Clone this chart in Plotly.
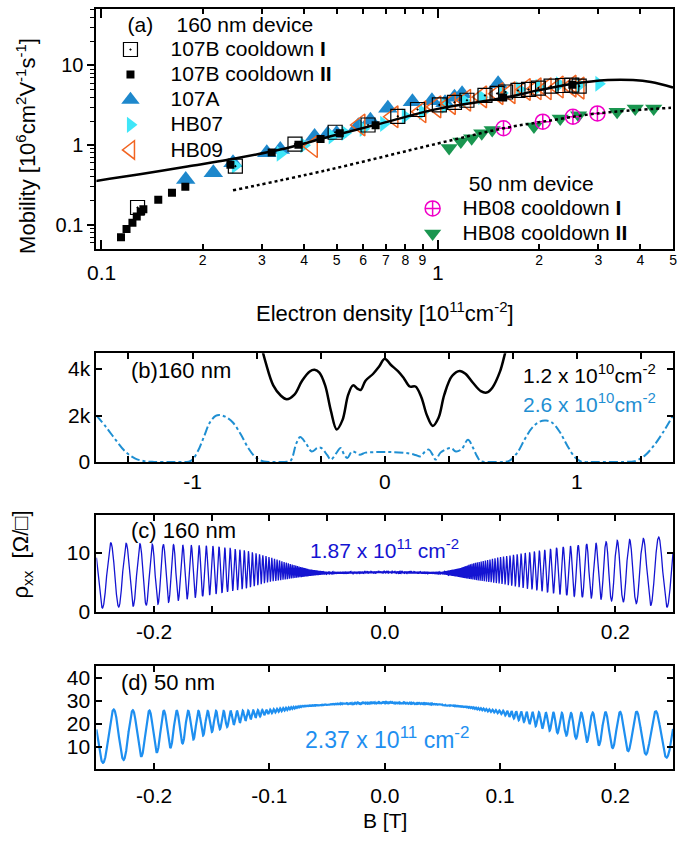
import numpy as np
import plotly.graph_objects as go

FONT = "Liberation Sans, Arial, sans-serif"
W, H = 682, 845

# ---------------- Panel (a): mobility vs density ----------------
b107I_n = [0.128, 0.25, 0.376, 0.495, 0.62, 0.76, 0.87, 1.01, 1.12, 1.22, 1.38, 1.5, 1.59, 1.73, 1.86, 1.99, 2.17, 2.35, 2.5, 2.63]
b107I_mu = [0.165, 0.544, 1.03, 1.45, 1.79, 2.3, 2.8, 3.2, 3.45, 3.66, 4.2, 4.45, 4.64, 4.86, 5.0, 5.2, 5.5, 5.6, 5.65, 5.5]

b107II_n = [0.1143, 0.1187, 0.1236, 0.1273, 0.1308, 0.1332, 0.1475, 0.162, 0.1775, 0.2417, 0.3206, 0.385, 0.448, 0.511, 0.653, 1.563, 2.51]
b107II_mu = [0.070, 0.0887, 0.1065, 0.1275, 0.146, 0.157, 0.206, 0.253, 0.301, 0.569, 0.811, 1.01, 1.197, 1.41, 1.77, 3.95, 5.72]

a107_n = [0.178, 0.215, 0.246, 0.31, 0.34, 0.43, 0.47, 0.50, 0.58, 0.63, 0.71, 0.84, 0.96, 1.05, 1.12, 1.18, 1.51]
a107_mu = [0.37, 0.45, 0.60, 0.80, 0.88, 1.28, 1.37, 1.40, 1.75, 2.05, 2.9, 3.5, 3.6, 3.4, 4.0, 4.4, 5.9]

hb07_n = [0.25, 0.34, 0.40, 0.485, 0.53, 0.60, 0.69, 0.80, 0.90, 1.05, 1.2, 1.35, 1.55, 1.75, 2.0, 2.3, 2.64, 3.01]
hb07_mu = [0.55, 0.78, 1.0, 1.29, 1.42, 1.6, 1.85, 2.3, 2.6, 3.1, 3.6, 4.0, 4.5, 5.0, 5.4, 5.8, 5.7, 5.9]

hb09_n = [0.424, 0.587, 0.736, 0.891, 0.987, 1.09, 1.21, 1.35, 1.51, 1.64, 1.82, 1.96, 2.10, 2.28, 2.49, 2.63]
hb09_mu = [0.96, 1.79, 2.27, 2.62, 3.02, 3.32, 3.66, 4.03, 4.43, 4.55, 5.0, 5.1, 5.1, 5.36, 5.5, 5.2]

hb08I_n = [1.567, 2.05, 2.52, 2.98]
hb08I_mu = [1.63, 1.97, 2.27, 2.5]

hb08II_n = [1.08, 1.17, 1.26, 1.35, 1.45, 1.93, 2.31, 2.62, 3.41, 3.86, 4.38]
hb08II_mu = [0.92, 1.11, 1.22, 1.41, 1.55, 1.71, 2.16, 2.38, 2.62, 2.88, 2.88]

fit_n = [0.096, 0.13, 0.18, 0.24, 0.34, 0.48, 0.66, 1.0, 1.56, 2.0, 2.5, 3.2, 3.8, 4.3, 5.0]
fit_mu = [0.355, 0.43, 0.54, 0.66, 0.88, 1.29, 1.82, 2.85, 3.9, 4.9, 5.85, 6.55, 6.55, 6.2, 5.3]

dot_n = [0.246, 0.468, 1.0, 1.57, 2.05, 2.98, 4.93]
dot_mu = [0.271, 0.485, 1.05, 1.63, 1.97, 2.5, 2.94]

xa_major_vals = [0.1, 1]
xa_major_text = ["0.1", "1"]
xa_minor_vals = [0.2, 0.3, 0.4, 0.5, 0.6, 0.7, 0.8, 0.9, 2, 3, 4, 5]
xa_minor_text = ["2", "3", "4", "5", "6", "7", "8", "9", "2", "3", "4", "5"]
ya_major_vals = [0.1, 1, 10]
ya_major_text = ["0.1", "1", "10"]
ya_minor_vals = [0.05, 0.06, 0.07, 0.08, 0.09, 0.2, 0.3, 0.4, 0.5, 0.6, 0.7, 0.8, 0.9,
                 2, 3, 4, 5, 6, 7, 8, 9, 20, 30, 40, 50]

# ---------------- Panel (b) ----------------
b_black_B = [-0.66, -0.62, -0.58, -0.54, -0.51, -0.47, -0.43, -0.39, -0.365, -0.34, -0.31, -0.28, -0.25,
             -0.22, -0.19, -0.165, -0.14, -0.125, -0.10, -0.06, -0.03, 0.0, 0.03, 0.07, 0.10, 0.13, 0.16,
             0.19, 0.22, 0.25, 0.28, 0.31, 0.35, 0.39, 0.42, 0.46, 0.50, 0.53, 0.56, 0.60, 0.63, 0.66]
b_black_R = [5600, 4300, 3300, 2850, 2700, 2900, 3500, 3900, 3970, 3850, 3300, 2200, 1400,
             1800, 2900, 3300, 3150, 3100, 3500, 3800, 4100, 4450, 4200, 3900, 3600, 3250, 3250,
             2800, 2000, 1550, 1900, 2900, 3700, 3920, 3800, 3400, 3050, 2990, 3200, 3900, 4800, 5600]

b_blue_B = [-1.5, -1.45, -1.4, -1.35, -1.3, -1.25, -1.2, -1.1, -1.02, -1.0, -0.97, -0.94, -0.91, -0.88,
            -0.86, -0.83, -0.79, -0.75, -0.71, -0.67, -0.63, -0.58, -0.52, -0.49, -0.46, -0.44, -0.41,
            -0.38, -0.35, -0.33, -0.30, -0.28, -0.25, -0.23, -0.21, -0.195, -0.17, -0.15, -0.13, -0.1,
            -0.05, 0.0, 0.05, 0.1, 0.13, 0.16, 0.186, 0.21, 0.23, 0.25, 0.265, 0.29, 0.32, 0.345, 0.37,
            0.40, 0.433, 0.46, 0.48, 0.5, 0.55, 0.62, 0.65, 0.69, 0.73, 0.77, 0.81, 0.84, 0.87, 0.91,
            0.95, 0.99, 1.02, 1.1, 1.25, 1.3, 1.35, 1.4, 1.45, 1.5]
b_blue_R = [2000, 1500, 950, 450, 150, 30, 0, 0, 10, 100, 500, 1100, 1700, 1980,
            2020, 1950, 1700, 1200, 600, 180, 20, 0, 0, 50, 800, 1070, 800,
            450, 600, 600, 300, 100, 400, 600, 300, 170, 450, 400, 310, 400,
            420, 430, 420, 390, 360, 300, 240, 450, 530, 300, 100, 400, 550, 600, 450,
            550, 950, 600, 250, 30, 0, 0, 60, 400, 1000, 1500, 1750, 1780, 1700, 1300,
            700, 200, 20, 0, 0, 30, 250, 700, 1300, 2000]

# ---------------- Panel (c) and (d): SdH traces ----------------
# envelopes (upper / lower extent of the oscillation)
c_env_B = [-0.25, -0.2, -0.15, -0.12, -0.1, -0.08, -0.065, -0.05, 0.0, 0.05, 0.065, 0.076, 0.1, 0.15, 0.2, 0.25]
c_env_hi = [11.8, 11.5, 11.2, 10.4, 9.3, 8.0, 7.2, 6.8, 6.9, 6.8, 7.4, 8.2, 9.3, 10.9, 12.1, 12.9]
c_env_lo = [0.6, 1.2, 2.9, 4.0, 5.1, 5.7, 6.1, 6.4, 6.6, 6.4, 5.9, 5.5, 4.8, 3.0, 1.8, 0.7]
c_freq, c_phase = 4.0, 0.84   # peak spacing in 1/B

d_env_B = [-0.25, -0.24, -0.22, -0.2, -0.17, -0.15, -0.12, -0.1, -0.07, -0.04, 0.0, 0.04, 0.07, 0.1,
           0.12, 0.14, 0.16, 0.18, 0.2, 0.23, 0.25]
d_env_hi = [26.4, 26.4, 26.0, 25.8, 25.7, 25.7, 25.8, 26.2, 27.9, 28.8, 29.4, 28.8, 27.6, 25.8,
            25.3, 25.0, 24.8, 25.0, 25.2, 25.5, 25.6]
d_env_lo = [3.0, 3.3, 5.0, 7.3, 12.5, 16.5, 21.5, 24.5, 27.6, 28.6, 29.2, 28.6, 27.3, 24.5,
            21.0, 17.5, 14.6, 11.5, 9.3, 6.5, 5.0]
d_freq, d_phase = 3.10, 0.19

Bgrid = np.linspace(-0.25, 0.25, 40000)


def sdh(env_B, hi, lo, freq, phase):
    up = np.interp(Bgrid, env_B, hi)
    dn = np.interp(Bgrid, env_B, lo)
    return 0.5 * (up + dn) + 0.5 * (up - dn) * np.cos(2 * np.pi * (freq / np.abs(Bgrid) - phase))


rho_c = sdh(c_env_B, c_env_hi, c_env_lo, c_freq, c_phase)
rho_d = sdh(d_env_B, d_env_hi, d_env_lo, d_freq, d_phase)

# ---------------- figure ----------------
fig = go.Figure()


def sp(text, size=21):
    return f"<span style='font-size:{size}px'>{text}</span>"


def sup(text, size=15):
    return f"<sup><span style='font-size:{size}px'>{text}</span></sup>"


fig.add_trace(go.Scatter(x=a107_n, y=a107_mu, mode="markers", name=sp("107A"), legendrank=3,
                         marker=dict(symbol="triangle-up", size=17, color="#1E88CC"), xaxis="x", yaxis="y"))
fig.add_trace(go.Scatter(x=hb07_n, y=hb07_mu, mode="markers", name=sp("HB07"), legendrank=4,
                         marker=dict(symbol="triangle-right", size=14, color="#3FE6F8"), xaxis="x", yaxis="y"))
fig.add_trace(go.Scatter(x=hb09_n, y=hb09_mu, mode="markers", name=sp("HB09"), legendrank=5,
                         marker=dict(symbol="triangle-left-open", size=19, color="#F26522", line=dict(width=1.5)),
                         xaxis="x", yaxis="y"))
fig.add_trace(go.Scatter(x=hb08II_n, y=hb08II_mu, mode="markers", name=sp("HB08 cooldown <b>II</b>"),
                         legend="legend2", legendrank=2,
                         marker=dict(symbol="triangle-down", size=15, color="#1A9650"), xaxis="x", yaxis="y"))
fig.add_trace(go.Scatter(x=hb08I_n, y=hb08I_mu, mode="markers", name=sp("HB08 cooldown <b>I</b>"),
                         legend="legend2", legendrank=1,
                         marker=dict(symbol="circle-cross-open", size=15, color="#F000C8", line=dict(width=1.5)),
                         xaxis="x", yaxis="y"))
fig.add_trace(go.Scatter(x=fit_n, y=fit_mu, mode="lines", showlegend=False, line_shape="spline",
                         line=dict(color="black", width=2.5), xaxis="x", yaxis="y"))
fig.add_trace(go.Scatter(x=dot_n, y=dot_mu, mode="lines", showlegend=False, line_shape="spline",
                         line=dict(color="black", width=2.5, dash="dot"), xaxis="x", yaxis="y"))
fig.add_trace(go.Scatter(x=b107I_n, y=b107I_mu, mode="markers", name=sp("107B cooldown <b>I</b>"), legendrank=1,
                         marker=dict(symbol="square-open-dot", size=14, color="black", line=dict(width=1.2)),
                         xaxis="x", yaxis="y"))
fig.add_trace(go.Scatter(x=b107II_n, y=b107II_mu, mode="markers", name=sp("107B cooldown <b>II</b>"), legendrank=2,
                         marker=dict(symbol="square", size=8, color="black"), xaxis="x", yaxis="y"))

# panel b
fig.add_trace(go.Scatter(x=b_blue_B, y=b_blue_R, mode="lines", showlegend=False, line_shape="spline",
                         line=dict(color="#1F8FD2", width=2, dash="dashdot"), xaxis="x3", yaxis="y3"))
fig.add_trace(go.Scatter(x=b_black_B, y=b_black_R, mode="lines", showlegend=False, line_shape="spline",
                         line=dict(color="black", width=2.5), xaxis="x3", yaxis="y3"))
# panel c
fig.add_trace(go.Scatter(x=Bgrid, y=rho_c, mode="lines", showlegend=False,
                         line=dict(color="#1414D2", width=1.3), xaxis="x4", yaxis="y4"))
# panel d
fig.add_trace(go.Scatter(x=Bgrid, y=rho_d, mode="lines", showlegend=False,
                         line=dict(color="#1E8FF0", width=2.2), xaxis="x5", yaxis="y5"))

XD = [97 / W, 677 / W]


def ydom(top, bot):
    return [1 - bot / H, 1 - top / H]


frame = dict(showline=True, linewidth=2, linecolor="black", showgrid=False, zeroline=False,
             tickcolor="black", tickwidth=1.5)
tf = dict(family=FONT, size=21, color="black")

xa_rng = [np.log10(0.0966), np.log10(5.0)]
ya_rng = [-1.30, 1.71]

fig.update_layout(
    width=W, height=H, margin=dict(l=0, r=0, t=0, b=0), autosize=False,
    paper_bgcolor="white", plot_bgcolor="white", font=dict(family=FONT, size=20, color="black"),
    xaxis=dict(domain=XD, anchor="y", type="log", range=xa_rng, tickvals=xa_minor_vals, ticktext=xa_minor_text,
               ticks="inside", ticklen=5, mirror="ticks", tickfont=dict(family=FONT, size=14, color="black"),
               ticklabelstandoff=-3,
               minor=dict(tickvals=xa_major_vals, ticks="inside", ticklen=9, tickwidth=1.5, tickcolor="black"),
               **frame),
    yaxis=dict(domain=ydom(9, 252), anchor="x", type="log", range=ya_rng, tickvals=ya_major_vals,
               ticktext=ya_major_text, ticks="outside", ticklen=7, mirror=True,
               tickfont=dict(family=FONT, size=20, color="black"),
               minor=dict(tickvals=ya_minor_vals, ticks="outside", ticklen=4, tickwidth=1.2, tickcolor="black"),
               **frame),
    yaxis2=dict(overlaying="y", anchor="x", side="right", type="log", range=ya_rng, tickvals=ya_major_vals,
                ticks="inside", ticklen=7, showticklabels=False, showline=False, showgrid=False, zeroline=False,
                tickcolor="black", tickwidth=1.5,
                minor=dict(tickvals=ya_minor_vals, ticks="inside", ticklen=4, tickwidth=1.2, tickcolor="black")),
    xaxis3=dict(domain=XD, anchor="y3", range=[-1.5, 1.5], tickvals=[k / 3 for k in range(-4, 5)],
                ticktext=["", "-1", "", "", "0", "", "", "1", ""], ticks="inside", ticklen=6,
                mirror="ticks", tickfont=tf, **frame),
    yaxis3=dict(domain=ydom(358, 468), anchor="x3", range=[0, 4680], tickvals=[0, 2000, 4000],
                ticktext=["0", "2k", "4k"], ticks="inside", ticklen=6, mirror="ticks", tickfont=tf, **frame),
    xaxis4=dict(domain=XD, anchor="y4", range=[-0.25, 0.25], tickvals=[k * 0.05 for k in range(-5, 6)],
                ticktext=["", "-0.2", "", "", "", "0.0", "", "", "", "0.2", ""], ticks="inside", ticklen=6,
                mirror="ticks", tickfont=tf, **frame),
    yaxis4=dict(domain=ydom(522, 620), anchor="x4", range=[0, 16.4], tickvals=[0, 10], ticktext=["0", "10"],
                ticks="inside", ticklen=6, mirror="ticks", tickfont=tf, **frame),
    xaxis5=dict(domain=XD, anchor="y5", range=[-0.25, 0.25], tickvals=[k * 0.1 for k in range(-2, 3)],
                ticktext=["-0.2", "-0.1", "0.0", "0.1", "0.2"], ticks="inside", ticklen=6,
                mirror="ticks", tickfont=tf, ticklabelstandoff=7, **frame),
    yaxis5=dict(domain=ydom(675, 779), anchor="x5", range=[0.6, 45], tickvals=[10, 20, 30, 40],
                ticktext=["10", "20", "30", "40"], ticks="inside", ticklen=6, mirror="ticks", tickfont=tf, **frame),
    legend=dict(x=91 / W, xanchor="left", y=1 - 10 / H, yanchor="top", bgcolor="rgba(0,0,0,0)",
                font=dict(family=FONT, size=17, color="black"), itemwidth=70, tracegroupgap=0,
                title=dict(text=sp("\u00a0" * 6 + "(a)" + "\u00a0" * 4 + "160 nm device"),
                           font=dict(family=FONT, size=17))),
    legend2=dict(x=405 / W, xanchor="left", y=1 - 171 / H, yanchor="top", bgcolor="rgba(0,0,0,0)",
                 font=dict(family=FONT, size=17, color="black"), itemwidth=50, tracegroupgap=0,
                 title=dict(text=sp("\u00a0" * 11 + "50 nm device"), font=dict(family=FONT, size=17))),
)

# major x tick labels of panel (a), placed below the minor digits
for v, t in zip(xa_major_vals, xa_major_text):
    fig.add_annotation(text=t, x=np.log10(v), xref="x", y=1 - 276 / H, yref="paper", showarrow=False,
                       xanchor="center", yanchor="middle", font=dict(family=FONT, size=21, color="black"))

ann = [
    dict(text="Mobility [10" + sup("6") + "cm" + sup("2") + "V" + sup("-1") + "s" + sup("-1") + "]",
         x=26, y=148, textangle=-90, size=22),
    dict(text="Electron density [10" + sup("11") + "cm" + sup("-2") + "]", x=387, y=316, size=22),
    dict(text="(b)160 nm", x=130, y=375, xanchor="left", size=22),
    dict(text="1.2 x 10" + sup("10") + "cm" + sup("-2"), x=662, y=378, xanchor="right", size=21),
    dict(text="2.6 x 10" + sup("10") + "cm" + sup("-2"), x=662, y=408, xanchor="right", size=21,
         color="#1F8FD2"),
    dict(text="(c) 160 nm", x=130, y=538, xanchor="left", size=22),
    dict(text="1.87 x 10" + sup("11") + " cm" + sup("-2"), x=387, y=556, color="#1414D2", size=21),
    dict(text="ρ<sub>xx</sub>  [Ω/□]", x=22, y=562, textangle=-90, size=22),
    dict(text="(d) 50 nm", x=120, y=692, xanchor="left", size=22),
    dict(text="2.37 x 10" + sup("11", 17) + " cm" + sup("-2", 17), x=389, y=748, color="#1E8FF0", size=23),
    dict(text="B [T]", x=387, y=831, size=21),
]
for a in ann:
    fig.add_annotation(text=a["text"], x=a["x"] / W, y=1 - a["y"] / H, xref="paper", yref="paper",
                       xanchor=a.get("xanchor", "center"), yanchor="middle", showarrow=False,
                       textangle=a.get("textangle", 0),
                       font=dict(family=FONT, size=a.get("size", 20), color=a.get("color", "black")))

fig.write_html("out.html")
